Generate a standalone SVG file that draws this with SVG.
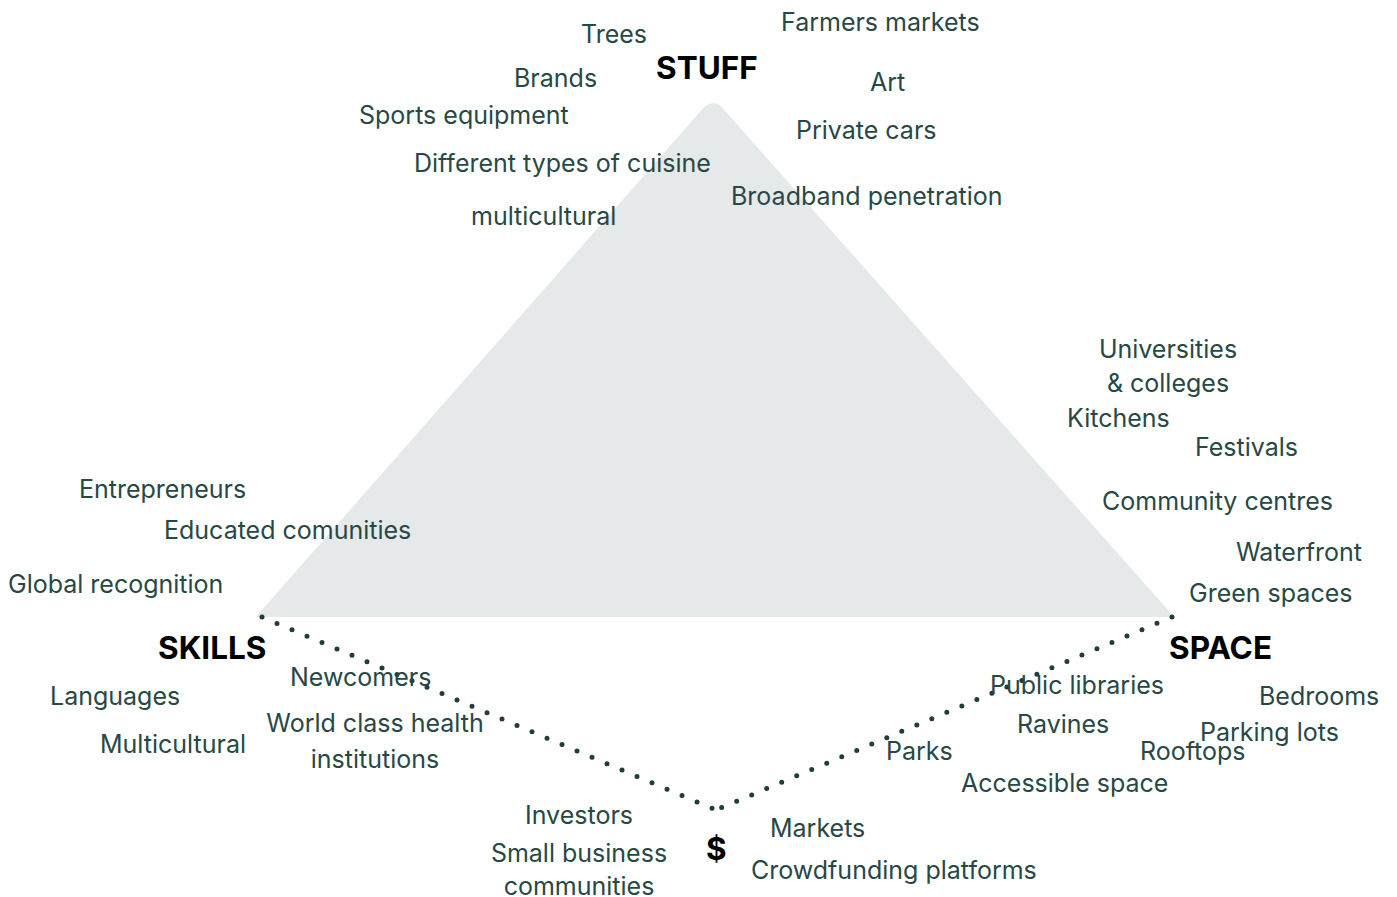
<svg xmlns="http://www.w3.org/2000/svg" width="1397" height="897" viewBox="0 0 1397 897">
<style>
.t{font-family:Inter,"Liberation Sans",sans-serif;font-size:25px;fill:#284845}
.h{font-family:Inter,"Liberation Sans",sans-serif;font-size:31.5px;font-weight:bold;fill:#000}
.m{text-anchor:middle}
.dots{fill:none;stroke:#1f3d3d;stroke-width:5;stroke-linecap:round;stroke-dasharray:0 16.3}
</style>
<rect width="1397" height="897" fill="#fff"/>
<g id="triangle">
<path d="M258,616 L703,110 Q713,98 723,110 L1172,616 Z" fill="#e6e9ea" stroke="#e6e9ea" stroke-width="2" stroke-linejoin="round"/>
</g>
<g id="connectors">
<line class="dots" x1="262" y1="617" x2="716" y2="810"/>
<line class="dots" x1="1172" y1="617" x2="716" y2="810"/>
</g>
<g id="stuff">
<text class="h" x="656" y="79">STUFF</text>
<text class="t" x="581" y="43">Trees</text>
<text class="t" x="781" y="31">Farmers markets</text>
<text class="t" x="514" y="87">Brands</text>
<text class="t" x="870" y="91">Art</text>
<text class="t" x="359" y="124">Sports equipment</text>
<text class="t" x="796" y="139">Private cars</text>
<text class="t" x="414" y="172">Different types of cuisine</text>
<text class="t" x="731" y="205">Broadband penetration</text>
<text class="t" x="471" y="225">multicultural</text>
</g>
<g id="space">
<text class="h" x="1169" y="659">SPACE</text>
<text class="t m" x="1168" y="358">Universities</text>
<text class="t m" x="1168" y="392">&amp; colleges</text>
<text class="t" x="1067" y="427">Kitchens</text>
<text class="t" x="1195" y="456">Festivals</text>
<text class="t" x="1102" y="510">Community centres</text>
<text class="t" x="1236" y="561">Waterfront</text>
<text class="t" x="1189" y="602">Green spaces</text>
<text class="t" x="990" y="694">Public libraries</text>
<text class="t" x="1259" y="705">Bedrooms</text>
<text class="t" x="1017" y="733">Ravines</text>
<text class="t" x="1200" y="741">Parking lots</text>
<text class="t" x="886" y="760">Parks</text>
<text class="t" x="1140" y="760">Rooftops</text>
<text class="t" x="961" y="792">Accessible space</text>
</g>
<g id="skills">
<text class="h" x="158" y="659">SKILLS</text>
<text class="t" x="79" y="498">Entrepreneurs</text>
<text class="t" x="164" y="539">Educated comunities</text>
<text class="t" x="8" y="593">Global recognition</text>
<text class="t" x="290" y="686">Newcomers</text>
<text class="t" x="50" y="705">Languages</text>
<text class="t m" x="375" y="732">World class health</text>
<text class="t m" x="375" y="768">institutions</text>
<text class="t" x="100" y="753">Multicultural</text>
</g>
<g id="money">
<text class="h" x="706" y="860">$</text>
<text class="t m" x="579" y="824">Investors</text>
<text class="t m" x="579" y="862">Small business</text>
<text class="t m" x="579" y="895">communities</text>
<text class="t" x="770" y="837">Markets</text>
<text class="t" x="751" y="879">Crowdfunding platforms</text>
</g>
</svg>
